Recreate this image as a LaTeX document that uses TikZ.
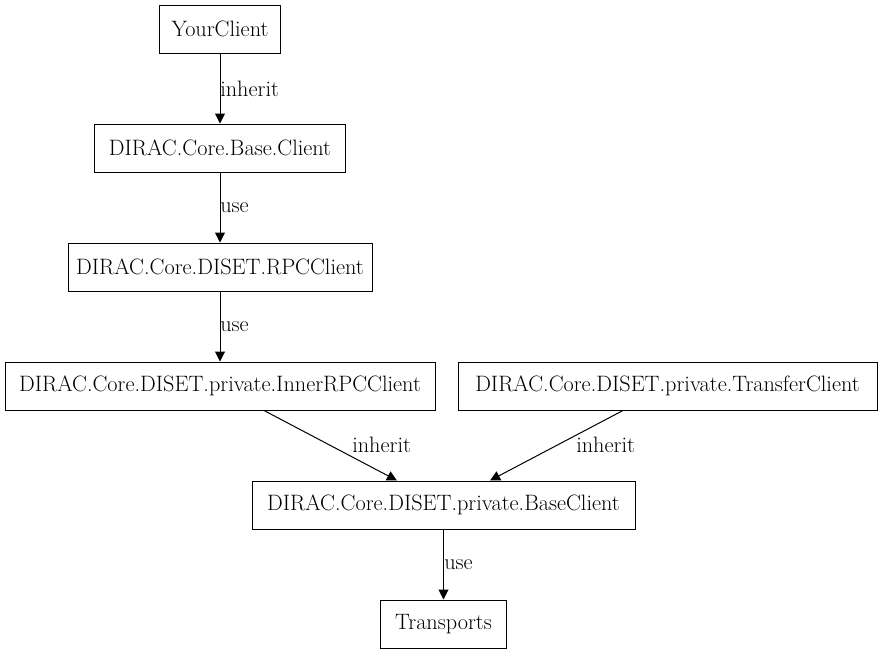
\documentclass[tikz,border=0pt]{standalone}
\usetikzlibrary{arrows.meta}
\begin{document}
\begin{tikzpicture}[x=0.75pt,y=-0.75pt,
  box/.style={draw,line width=0.75pt,minimum height=36pt,inner sep=0pt,font=\fontsize{16.7}{19}\selectfont},
  edge/.style={line width=0.75pt,-{Triangle[length=7.5pt,width=7.5pt]}},
  lbl/.style={font=\fontsize{16.7}{19}\selectfont,inner sep=0pt,anchor=west}]
\useasboundingbox (0,0) rectangle (883,654);
\node[box,minimum width=90.75pt] (yc) at (220,29) {YourClient};
\node[box,minimum width=188.25pt] (bc) at (220,148) {DIRAC.Core.Base.Client};
\node[box,minimum width=228pt] (rpc) at (220,267) {DIRAC.Core.DISET.RPCClient};
\node[box,minimum width=322.5pt] (inner) at (220,386) {DIRAC.Core.DISET.private.InnerRPCClient};
\node[box,minimum width=314.25pt] (tc) at (667.5,386) {DIRAC.Core.DISET.private.TransferClient};
\node[box,minimum width=287.25pt] (base) at (443.5,505) {DIRAC.Core.DISET.private.BaseClient};
\node[box,minimum width=94.5pt] (tr) at (443.5,624) {Transports};
\draw[edge] (yc.south) -- (bc.north);
\draw[edge] (bc.south) -- (rpc.north);
\draw[edge] (rpc.south) -- (inner.north);
\draw[edge] ([xshift=33pt]inner.south) -- ([xshift=-34.9pt]base.north);
\draw[edge] ([xshift=-33.4pt]tc.south) -- ([xshift=34.9pt]base.north);
\draw[edge] (base.south) -- (tr.north);
\node[lbl] (l1) at (220,89) {inherit};
\node[lbl] (l2) at (220,208) {use};
\node[lbl] (l3) at (220,327) {use};
\node[lbl] (l4) at (352,445) {inherit};
\node[lbl] (l5) at (576,445) {inherit};
\node[lbl] (l6) at (444,565) {use};
\end{tikzpicture}
\end{document}
